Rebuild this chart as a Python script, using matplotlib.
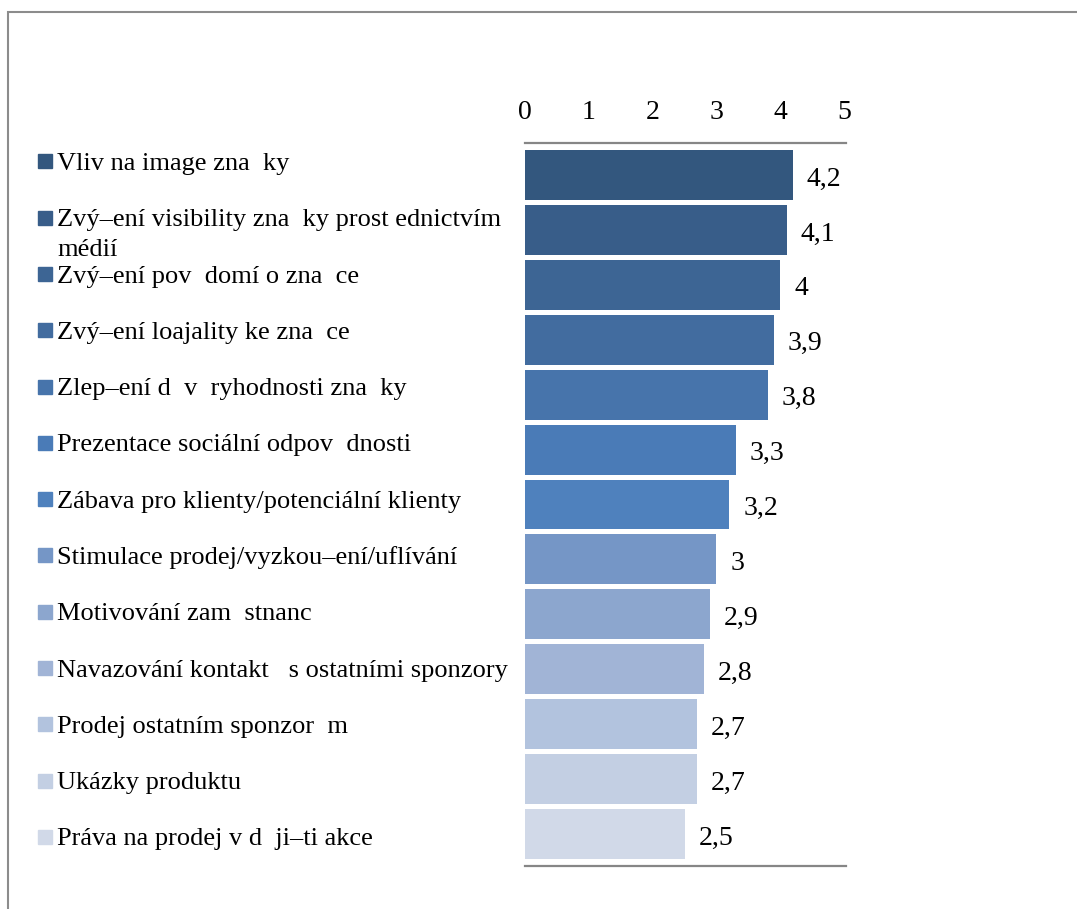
import matplotlib
matplotlib.use("Agg")
import matplotlib.pyplot as plt
from matplotlib import transforms
from matplotlib.patches import Rectangle

# Data
labels = [
    "Vliv na image zna  ky",
    "Zvý\u2013ení visibility zna  ky prost ednictvím\nmédií",
    "Zvý\u2013ení pov  domí o zna  ce",
    "Zvý\u2013ení loajality ke zna  ce",
    "Zlep\u2013ení d  v  ryhodnosti zna  ky",
    "Prezentace sociální odpov  dnosti",
    "Zábava pro klienty/potenciální klienty",
    "Stimulace prodej/vyzkou\u2013ení/uflívání",
    "Motivování zam  stnanc",
    "Navazování kontakt   s ostatními sponzory",
    "Prodej ostatním sponzor  m",
    "Ukázky produktu",
    "Práva na prodej v d  ji\u2013ti akce",
]
values = [4.2, 4.1, 4.0, 3.9, 3.8, 3.3, 3.2, 3.0, 2.9, 2.8, 2.7, 2.7, 2.5]
colors = ["#33577E", "#385D89", "#3D6594", "#426C9F", "#4774AB", "#4A7BB7",
          "#4F81BD", "#7596C6", "#8CA6CE", "#A1B4D6", "#B2C3DE", "#C3CFE3",
          "#D1D9E8"]
xticks = [0, 1, 2, 3, 4, 5]

plt.rcParams['font.family'] = ['Liberation Serif', 'DejaVu Serif']
fs = 19
fs_num = 20

fig = plt.figure(figsize=(10.77, 9.09), dpi=100)
ax = fig.add_axes([525 / 1077, 1 - 866 / 909, 321 / 1077, 723 / 909])

pos = list(range(len(values)))
ax.barh(pos, values, height=0.91, color=colors)
ax.set_xlim(0, 5.03)
ax.set_ylim(12.58, -0.58)

ax.xaxis.tick_top()
ax.set_xticks(xticks)
ax.set_xticklabels([str(t) for t in xticks], fontsize=fs_num)
ax.tick_params(axis='x', length=0, pad=13)
ax.set_yticks([])
for s in ['left', 'right']:
    ax.spines[s].set_visible(False)
for s in ['top', 'bottom']:
    ax.spines[s].set_color('#868686')
    ax.spines[s].set_linewidth(1.6)

# value labels
for p, v in zip(pos, values):
    txt = ("%g" % v).replace('.', ',')
    ax.annotate(txt, (v, p), xytext=(10, -3), textcoords='offset points',
                va='center', ha='left', fontsize=fs_num)

# legend-like category labels on the left
tr = transforms.blended_transform_factory(fig.transFigure, ax.transData)
step = 56.25 / 54.9
line_h = 30 / 54.9
for i, (lab, c) in enumerate(zip(labels, colors)):
    yb = -0.09 + step * i
    for k, part in enumerate(lab.split('\n')):
        ax.text(57 / 1077, yb + k * line_h, part, transform=tr,
                va='baseline', ha='left', fontsize=fs, clip_on=False)
    ax.plot([45 / 1077], [yb - 0.155], marker='s', ms=9.4, color=c,
            transform=tr, clip_on=False)

# outer frame (only top and left visible)
fig.patches.append(Rectangle((8 / 1077, -0.2), 1.2, 1.2 - 12 / 909,
                             transform=fig.transFigure, fill=False,
                             edgecolor='#8C8C8C', linewidth=1.5))

fig.savefig("out.png", dpi=100)
